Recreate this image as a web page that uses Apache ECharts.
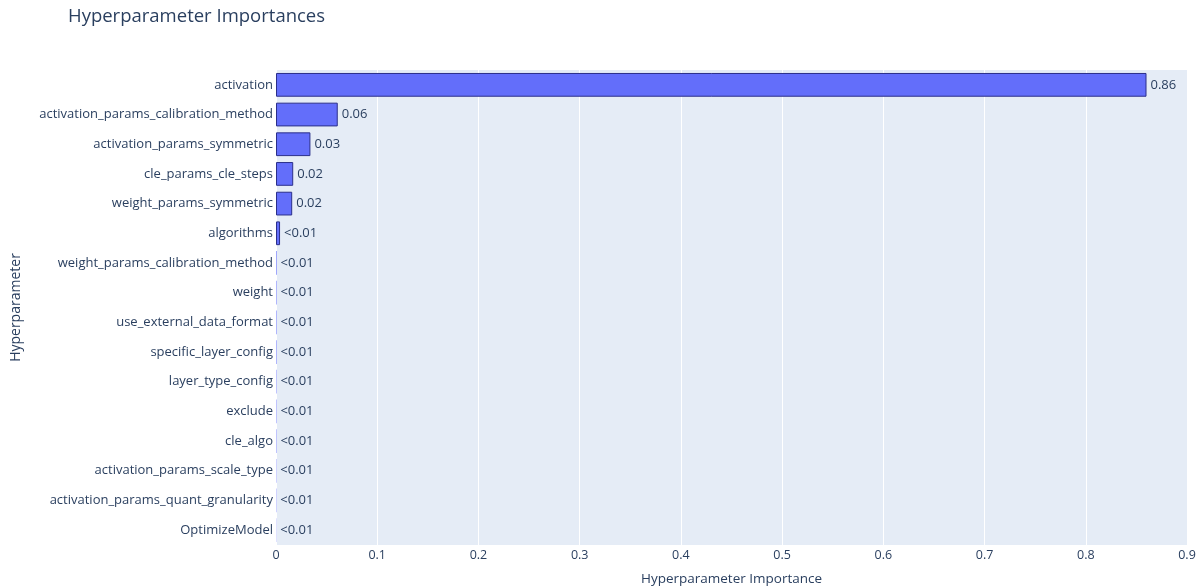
<!DOCTYPE html>
<html>
<head>
<meta charset="utf-8">
<script src="https://cdn.jsdelivr.net/npm/echarts@6/dist/echarts.min.js"></script>
<style>html,body{margin:0;padding:0;background:#fff}#c{width:1200px;height:587px}</style>
</head>
<body>
<div id="c"></div>
<script>
const categories = [
  "activation",
  "activation_params_calibration_method",
  "activation_params_symmetric",
  "cle_params_cle_steps",
  "weight_params_symmetric",
  "algorithms",
  "weight_params_calibration_method",
  "weight",
  "use_external_data_format",
  "specific_layer_config",
  "layer_type_config",
  "exclude",
  "cle_algo",
  "activation_params_scale_type",
  "activation_params_quant_granularity",
  "OptimizeModel"
];
const importances = [0.86, 0.061, 0.034, 0.017, 0.016, 0.004, 0.0006, 0.0005, 0.0005, 0.0005, 0.0004, 0.0004, 0.0004, 0.0003, 0.0003, 0.0002];
const valueLabels = ["0.86", "0.06", "0.03", "0.02", "0.02", "<0.01", "<0.01", "<0.01", "<0.01", "<0.01", "<0.01", "<0.01", "<0.01", "<0.01", "<0.01", "<0.01"];
const xTicks = [0, 0.1, 0.2, 0.3, 0.4, 0.5, 0.6, 0.7, 0.8, 0.9];

const FONT = '"Open Sans", "DejaVu Sans", sans-serif';
const TXT = '#2a3f5f';
const chart = echarts.init(document.getElementById('c'), null, {renderer: 'canvas'});
chart.setOption({
  animation: false,
  title: {
    text: 'Hyperparameter Importances',
    left: 63, top: 2,
    textStyle: {fontFamily: FONT, fontSize: 18.5, fontWeight: 'normal', color: TXT}
  },
  grid: {
    left: 276, right: 13, top: 70, bottom: 42,
    outerBoundsMode: 'none', containLabel: false,
    show: true, backgroundColor: '#E5ECF6', borderWidth: 0
  },
  xAxis: {
    type: 'value', min: 0, max: 0.9, interval: 0.1,
    name: 'Hyperparameter Importance', nameLocation: 'middle', nameGap: 27,
    nameTextStyle: {fontFamily: FONT, fontSize: 13.5, color: TXT},
    axisLine: {show: false}, axisTick: {show: false},
    axisLabel: {fontFamily: FONT, fontSize: 12.5, color: TXT, margin: 4,
      formatter: v => { const t = xTicks.find(x => Math.abs(x - v) < 1e-9); return t === undefined ? '' : String(t); }},
    splitLine: {show: true, lineStyle: {color: '#ffffff', width: 1}}
  },
  yAxis: {
    type: 'category', data: categories, inverse: true,
    name: 'Hyperparameter', nameLocation: 'middle', nameGap: 253,
    nameTextStyle: {fontFamily: FONT, fontSize: 14, color: TXT},
    axisLine: {show: false}, axisTick: {show: false},
    axisLabel: {fontFamily: FONT, fontSize: 13, color: TXT, margin: 3},
    splitLine: {show: false}
  },
  series: [{
    type: 'bar',
    data: importances.map(v => ({value: v, itemStyle: {borderWidth: v < 0.001 ? 0 : 1}})),
    barCategoryGap: '20%',
    itemStyle: {color: '#636efa', borderColor: '#2b2f8a', borderWidth: 1},
    label: {
      show: true, position: 'right', distance: 4,
      fontFamily: FONT, fontSize: 13, color: TXT,
      formatter: p => valueLabels[p.dataIndex]
    }
  }]
});
</script>
</body>
</html>
